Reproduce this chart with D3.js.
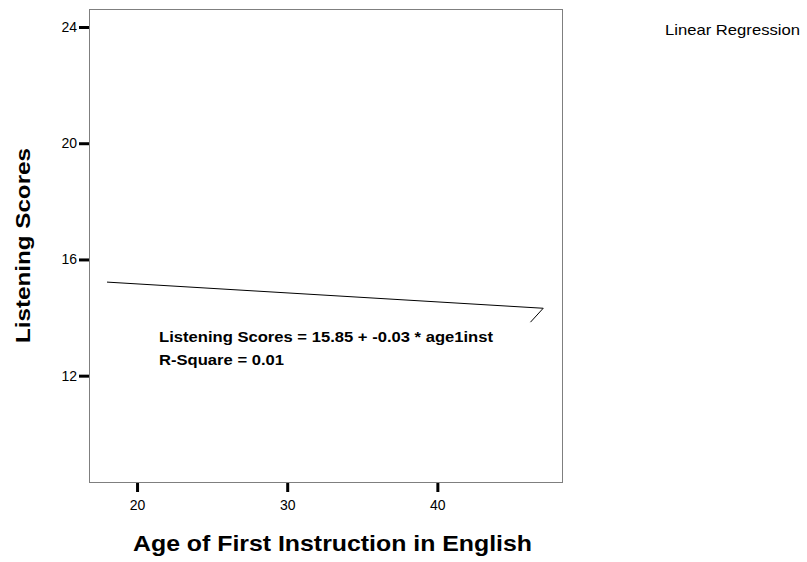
<!DOCTYPE html>
<html>
<head>
<meta charset="utf-8">
<script src="https://cdn.jsdelivr.net/npm/d3@7"></script>
<style>
  body { margin: 0; background: #fff; }
  svg { display: block; font-family: "Liberation Sans", Arial, sans-serif; }
</style>
</head>
<body>
<svg width="807" height="562"></svg>
<script>
// data
var xTicks = [20, 30, 40];
var yTicks = [12, 16, 20, 24];
var xDomain = [16.8, 48.3];
var yDomain = [8.34, 24.62];
// fitted line (age, score), plus the little stray stroke at its end
var fitLine = [[18, 15.22], [47.05, 14.32], [46.2, 13.84]];
var equation = ["Listening Scores = 15.85 + -0.03 * age1inst", "R-Square = 0.01"];
var legendLabel = "Linear Regression";
var xTitle = "Age of First Instruction in English";
var yTitle = "Listening Scores";

var svg = d3.select("svg");
var box = {left: 89, top: 9, right: 562, bottom: 482};

var x = d3.scaleLinear().domain(xDomain).range([box.left, box.right]);
var y = d3.scaleLinear().domain(yDomain).range([box.bottom, box.top]);

// frame
svg.append("rect")
  .attr("x", box.left + 0.5).attr("y", box.top + 0.5)
  .attr("width", box.right - box.left).attr("height", box.bottom - box.top)
  .attr("fill", "none").attr("stroke", "#7f7f7f").attr("stroke-width", 1);

// axes
var yAxis = svg.append("g")
  .attr("transform", "translate(" + (box.left) + ",0)")
  .call(d3.axisLeft(y).tickValues(yTicks).tickSize(10).tickPadding(2));
var xAxis = svg.append("g")
  .attr("transform", "translate(0," + (box.bottom + 1) + ")")
  .call(d3.axisBottom(x).tickValues(xTicks).tickSize(9).tickPadding(8));
[xAxis, yAxis].forEach(function(g){
  g.select(".domain").remove();
  g.selectAll("line").attr("stroke", "#000").attr("stroke-width", 3);
  g.selectAll("text").attr("fill", "#000").attr("font-size", 14)
    .attr("font-family", "Liberation Sans, Arial, sans-serif");
});

// regression line
svg.append("path")
  .datum(fitLine)
  .attr("d", d3.line().x(function(d){ return x(d[0]); }).y(function(d){ return y(d[1]); }))
  .attr("fill", "none").attr("stroke", "#000").attr("stroke-width", 1);

// equation text
var eqWidths = [334, 125];
svg.selectAll("text.eq")
  .data(equation)
  .enter().append("text")
  .attr("class", "eq")
  .attr("x", 159)
  .attr("y", function(d, i){ return 342 + i * 23; })
  .attr("font-size", 15).attr("font-weight", "bold")
  .attr("textLength", function(d, i){ return eqWidths[i]; })
  .attr("lengthAdjust", "spacingAndGlyphs")
  .text(function(d){ return d; });

// legend
svg.append("text")
  .attr("x", 665).attr("y", 35)
  .attr("font-size", 15)
  .attr("textLength", 135).attr("lengthAdjust", "spacingAndGlyphs")
  .text(legendLabel);

// axis titles
svg.append("text")
  .attr("x", 133).attr("y", 551)
  .attr("font-size", 22).attr("font-weight", "bold")
  .attr("textLength", 399).attr("lengthAdjust", "spacingAndGlyphs")
  .text(xTitle);
svg.append("text")
  .attr("transform", "translate(30,343) rotate(-90)")
  .attr("font-size", 21).attr("font-weight", "bold")
  .attr("textLength", 195).attr("lengthAdjust", "spacingAndGlyphs")
  .text(yTitle);
</script>
</body>
</html>
